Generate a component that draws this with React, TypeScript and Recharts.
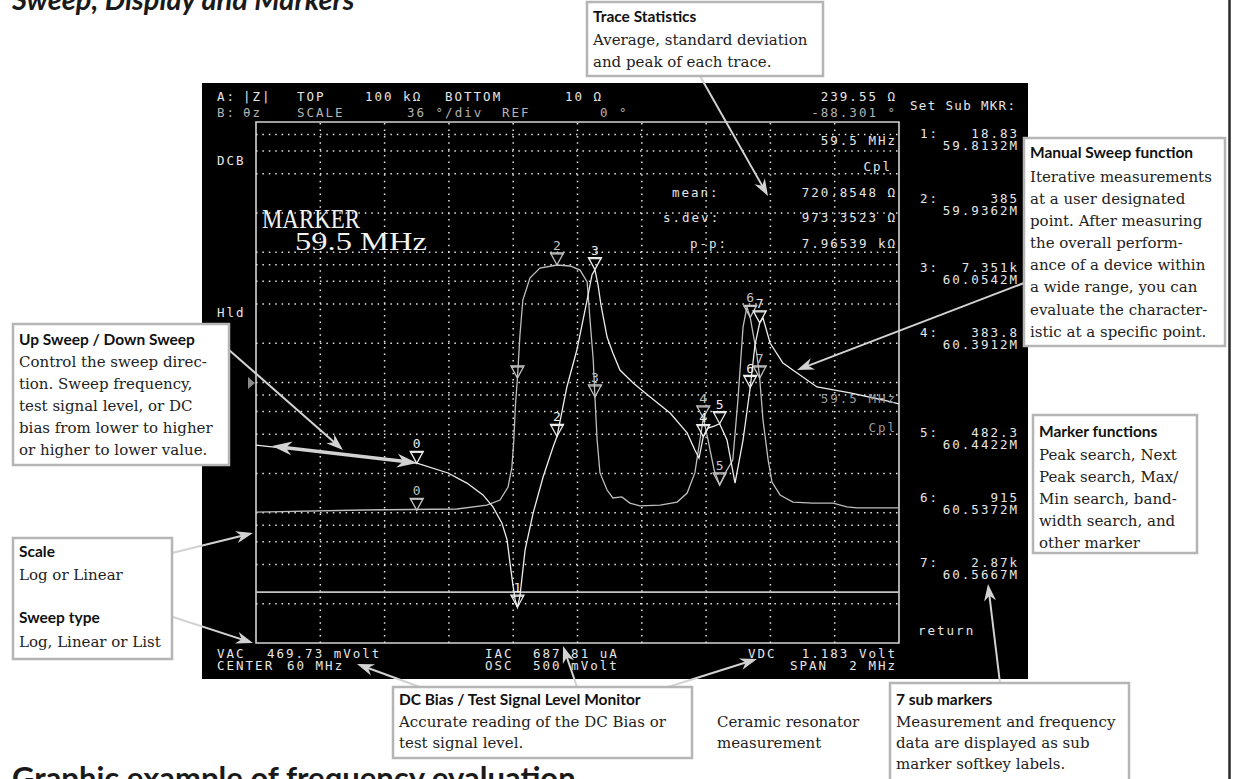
import React from "react";
import {
  ComposedChart,
  Line,
  Scatter,
  XAxis,
  YAxis,
  ReferenceLine,
  ReferenceArea,
} from "recharts";

// |Z| trace (MHz, ohm)
const Z_FREQ = [
  59.0, 59.106, 59.199, 59.292, 59.398, 59.498, 59.597, 59.656, 59.706, 59.737,
  59.765, 59.781, 59.79, 59.8, 59.806, 59.8132, 59.821, 59.837, 59.862, 59.893,
  59.924, 59.9362, 59.967, 59.998, 60.03, 60.045, 60.0542, 60.064, 60.073, 60.092,
  60.11, 60.132, 60.173, 60.226, 60.288, 60.341, 60.365, 60.378, 60.3912, 60.406,
  60.425, 60.4422, 60.465, 60.49, 60.515, 60.5372, 60.552, 60.5667, 60.577, 60.599,
  60.639, 60.683, 60.745, 60.848, 60.95, 61.0,
];
const Z_MAG = [
  331, 309, 293, 278, 259, 241, 202, 169, 137, 111,
  83, 62, 41, 27, 21.4, 18.83, 22.9, 51.8, 99.5, 188,
  320, 385, 924, 1776, 4300, 6690, 7351, 5600, 3936, 2235,
  1684, 1247, 991, 774, 583, 410, 303, 263, 383.8, 447,
  463, 482.3, 362, 169, 362, 915, 1941, 2870, 3128, 2011,
  1411, 1183, 924, 831, 734, 684,
];

// theta-z trace (MHz, degrees)
const P_FREQ = [
  59.0, 59.333, 59.625, 59.718, 59.759, 59.784, 59.796, 59.802, 59.807, 59.8132,
  59.821, 59.83, 59.852, 59.883, 59.9362, 59.977, 60.008, 60.03, 60.039, 60.049,
  60.0542, 60.061, 60.07, 60.092, 60.11, 60.138, 60.163, 60.194, 60.257, 60.31,
  60.341, 60.365, 60.381, 60.3912, 60.406, 60.425, 60.4422, 60.461, 60.483, 60.499,
  60.515, 60.527, 60.5372, 60.558, 60.5667, 60.577, 60.593, 60.605, 60.63, 60.67,
  60.733, 60.795, 60.838, 60.869, 61.0,
];
const P_DEG = [
  -89.5, -88.1, -87.4, -84.7, -81.2, -72.2, -58.4, -39.7, -15.5, 3.1,
  32.8, 57, 72.2, 79.1, 81.2, 80.5, 77.7, 69.5, 43.2, 15.6,
  -10, -39.7, -62.5, -74.3, -79.8, -79.1, -83.3, -85.3, -84.7, -82.6,
  -76.4, -62.5, -39.7, -24.5, -39.7, -60.5, -70.8, -61.9, -53.6, -12.1,
  38.4, 52.2, 45, 19, 3.1, -25.9, -53.6, -68.8, -77.7, -82.6,
  -83.3, -83.3, -86, -86.7, -86.7,
];

// markers 0..7
const MARKER_ID = ["0", "1", "2", "3", "4", "5", "6", "7"];
const MARKER_FREQ = [59.5, 59.8132, 59.9362, 60.0542, 60.3912, 60.4422, 60.5372, 60.5667];
const MARKER_Z = [239.55, 18.83, 385, 7351, 383.8, 482.3, 915, 2870];
const MARKER_PHASE = [-88.301, 3.1, 81.2, -10, -24.5, -70.8, 45, 3.1];
const PHASE_LABEL_SHOWN = [true, false, true, true, true, true, true, true];

// softkey labels
const SUB_VALUE = ["18.83", "385", "7.351k", "383.8", "482.3", "915", "2.87k"];
const SUB_FREQ = ["59.8132M", "59.9362M", "60.0542M", "60.3912M", "60.4422M", "60.5372M", "60.5667M"];
const SUB_Y = [138, 203, 272, 337, 437, 502, 567];

// grid
const GRID_FREQ = [59.2, 59.4, 59.6, 59.8, 60.0, 60.2, 60.4, 60.6, 60.8];
const GRID_MAG = [
  20, 40, 60, 80, 100, 200, 400, 600, 800, 1000, 2000, 4000, 6000, 8000,
  10000, 20000, 40000, 60000, 80000,
];
const LIMIT_Z = 24.6;

const W = 1236;
const H = 779;
const MONO = "'DejaVu Sans Mono', monospace";
const SANS = "Lato, 'Open Sans', sans-serif";
const SERIF = "'DejaVu Serif', serif";
const ARROW = "#d2d2d2";

function markerShape(color: string) {
  return (props: any) => {
    const { cx, cy, payload } = props;
    if (cx == null || cy == null) return <g />;
    return (
      <g>
        <path
          d={`M${cx - 6.5},${cy - 12} L${cx + 6.5},${cy - 12} L${cx},${cy} Z`}
          fill="none"
          stroke={color}
          strokeWidth={1.3}
        />
        <line x1={cx - 6.5} x2={cx + 6.5} y1={cy - 11} y2={cy - 11} stroke={color} strokeWidth={1.2} />
        {payload.showLabel && (
          <text x={cx} y={cy - 15} textAnchor="middle" fontFamily={MONO} fontSize={13} fill={color}>
            {payload.id}
          </text>
        )}
      </g>
    );
  };
}

function head(tx: number, ty: number, ux: number, uy: number, len: number, hw: number) {
  const bx = tx - ux * len;
  const by = ty - uy * len;
  const nx = tx - ux * len * 0.7;
  const ny = ty - uy * len * 0.7;
  return `${tx},${ty} ${bx - uy * hw},${by + ux * hw} ${nx},${ny} ${bx + uy * hw},${by - ux * hw}`;
}

function Arrow({ x1, y1, x2, y2, w = 2, both = false, len = 17, hw = 6 }: any) {
  const L = Math.hypot(x2 - x1, y2 - y1);
  const ux = (x2 - x1) / L;
  const uy = (y2 - y1) / L;
  const sx = both ? x1 + ux * len * 0.6 : x1;
  const sy = both ? y1 + uy * len * 0.6 : y1;
  return (
    <g>
      <line x1={sx} y1={sy} x2={x2 - ux * len * 0.6} y2={y2 - uy * len * 0.6} stroke={ARROW} strokeWidth={w} />
      <polygon points={head(x2, y2, ux, uy, len, hw)} fill={ARROW} />
      {both && <polygon points={head(x1, y1, -ux, -uy, len, hw)} fill={ARROW} />}
    </g>
  );
}

function Box({ x, y, w, h, items }: any) {
  return (
    <g>
      <rect x={x} y={y} width={w} height={h} fill="#fff" stroke="#b5b5b5" strokeWidth={2.5} />
      {items.map((it: any, i: number) => (
        <text
          key={i}
          x={x + 6}
          y={it.y}
          fontFamily={it.bold ? SANS : SERIF}
          fontWeight={it.bold ? 700 : 400}
          fontSize={it.bold ? 15.5 : 15}
          fill={it.bold ? "#111" : "#222"}
        >
          {it.t}
        </text>
      ))}
    </g>
  );
}

function Mono({ x, y, children, anchor = "start", fill = "#e6e6e6", len }: any) {
  return (
    <text
      x={x}
      y={y}
      textAnchor={anchor}
      fontFamily={MONO}
      fontSize={12.5}
      letterSpacing={len ? undefined : 2}
      textLength={len}
      lengthAdjust={len ? "spacing" : undefined}
      fill={fill}
    >
      {children}
    </text>
  );
}

export default function App() {
  const zData = Z_FREQ.map((f, i) => ({ f, z: Z_MAG[i] }));
  const pData = P_FREQ.map((f, i) => ({ f, p: P_DEG[i] }));
  const zMarks = MARKER_FREQ.map((f, i) => ({ f, z: MARKER_Z[i], id: MARKER_ID[i], showLabel: true }));
  const pMarks = MARKER_FREQ.map((f, i) => ({
    f,
    p: MARKER_PHASE[i],
    id: MARKER_ID[i],
    showLabel: PHASE_LABEL_SHOWN[i],
  }));
  const dot = { stroke: "#e4e4e4", strokeWidth: 1.5, strokeDasharray: "1.5 4.9" };

  return (
    <div style={{ position: "absolute", left: 0, top: 0, width: W, height: H, background: "#fff", overflow: "hidden" }}>
      <div style={{ position: "absolute", left: 202, top: 83, width: 826, height: 596, background: "#000" }} />
      <div style={{ position: "absolute", left: 0, top: 0 }}>
        <ComposedChart width={W} height={H} margin={{ top: 122, right: 337, bottom: 136, left: 256 }}>
          <XAxis type="number" dataKey="f" domain={[59, 61]} hide allowDataOverflow />
          <YAxis yAxisId="z" dataKey="z" type="number" scale="log" domain={[10, 100000]} hide allowDataOverflow />
          <YAxis yAxisId="p" dataKey="p" type="number" domain={[-180, 180]} hide allowDataOverflow />
          {GRID_FREQ.map((f) => (
            <ReferenceLine key={`gx${f}`} x={f} yAxisId="z" {...dot} />
          ))}
          {GRID_MAG.map((v) => (
            <ReferenceLine key={`gy${v}`} y={v} yAxisId="z" {...dot} />
          ))}
          <ReferenceLine y={LIMIT_Z} yAxisId="z" stroke="#c4c4c4" strokeWidth={1.6} />
          <ReferenceArea x1={59} x2={61} y1={10} y2={100000} yAxisId="z" fill="none" fillOpacity={0} stroke="#d4d4d4" strokeWidth={1.6} />
          <Line data={pData} dataKey="p" yAxisId="p" type="linear" stroke="#bdbdbd" strokeWidth={1.3} dot={false} isAnimationActive={false} />
          <Line data={zData} dataKey="z" yAxisId="z" type="linear" stroke="#ececec" strokeWidth={1.3} dot={false} isAnimationActive={false} />
          <Scatter data={pMarks} yAxisId="p" shape={markerShape("#c2c2c2")} isAnimationActive={false} />
          <Scatter data={zMarks} yAxisId="z" shape={markerShape("#ededed")} isAnimationActive={false} />
        </ComposedChart>
      </div>

      <svg width={W} height={H} style={{ position: "absolute", left: 0, top: 0, pointerEvents: "none" }}>
        {/* page heading */}
        <text x={12} y={10} fontFamily={SANS} fontWeight={700} fontStyle="italic" fontSize={29} fill="#1a1a1a">
          Sweep, Display and Markers
        </text>
        <text x={12} y={789} fontFamily={SANS} fontWeight={700} fontSize={31} fill="#1a1a1a">
          Graphic example of frequency evaluation
        </text>
        <line x1={1229.5} y1={0} x2={1229.5} y2={H} stroke="#2a2a2a" strokeWidth={2.5} />

        {/* header */}
        <Mono x={217} y={101}>A:</Mono>
        <Mono x={243} y={101}>|Z|</Mono>
        <Mono x={297} y={101}>TOP</Mono>
        <Mono x={365} y={101}>100 kΩ</Mono>
        <Mono x={445} y={101}>BOTTOM</Mono>
        <Mono x={565} y={101}>10 Ω</Mono>
        <Mono x={897} y={101} anchor="end">239.55 Ω</Mono>
        <Mono x={217} y={117} fill="#b4b4b4">B:</Mono>
        <Mono x={243} y={117} fill="#b4b4b4">θz</Mono>
        <Mono x={297} y={117} fill="#b4b4b4">SCALE</Mono>
        <Mono x={407} y={117} fill="#b4b4b4">36 °/div</Mono>
        <Mono x={502} y={117} fill="#b4b4b4">REF</Mono>
        <Mono x={600} y={117} fill="#b4b4b4">0 °</Mono>
        <Mono x={897} y={117} anchor="end" fill="#b4b4b4">-88.301 °</Mono>
        <Mono x={910} y={110} len={105}>Set Sub MKR:</Mono>

        <Mono x={217} y={165}>DCB</Mono>
        <Mono x={217} y={317}>Hld</Mono>
        <polygon points="248,377 255,383 248,389" fill="#8a8a8a" />

        {/* softkeys */}
        {SUB_VALUE.map((v, i) => (
          <g key={v}>
            <Mono x={920} y={SUB_Y[i]}>{`${i + 1}:`}</Mono>
            <Mono x={1019} y={SUB_Y[i]} anchor="end">{v}</Mono>
            <Mono x={1019} y={SUB_Y[i] + 12} anchor="end">{SUB_FREQ[i]}</Mono>
          </g>
        ))}
        <Mono x={918} y={635}>return</Mono>

        {/* in-plot readouts */}
        <Mono x={897} y={145} anchor="end">59.5 MHz</Mono>
        <Mono x={892} y={171} anchor="end">Cpl</Mono>
        <Mono x={672} y={197}>mean:</Mono>
        <Mono x={897} y={197} anchor="end">720.8548 Ω</Mono>
        <Mono x={663} y={222}>s.dev:</Mono>
        <Mono x={897} y={222} anchor="end">973.3523 Ω</Mono>
        <Mono x={690} y={248}>p-p:</Mono>
        <Mono x={897} y={248} anchor="end">7.96539 kΩ</Mono>
        <Mono x={897} y={403} anchor="end" fill="#9a9a9a">59.5 MHz</Mono>
        <Mono x={897} y={432} anchor="end" fill="#9a9a9a">Cpl</Mono>

        <text x={262} y={228} fontFamily="'Liberation Serif', serif" fontSize={28} fill="#f2f2f2" textLength={98} lengthAdjust="spacingAndGlyphs">
          MARKER
        </text>
        <text x={295} y={250} fontFamily="'Liberation Serif', serif" fontSize={25} fill="#f2f2f2" textLength={132} lengthAdjust="spacingAndGlyphs">
          59.5  MHz
        </text>

        {/* footer */}
        <Mono x={217} y={658}>VAC</Mono>
        <Mono x={267} y={658}>469.73 mVolt</Mono>
        <Mono x={217} y={670}>CENTER</Mono>
        <Mono x={287} y={670}>60 MHz</Mono>
        <Mono x={485} y={658}>IAC</Mono>
        <Mono x={533} y={658}>687.81 uA</Mono>
        <Mono x={485} y={670}>OSC</Mono>
        <Mono x={533} y={670}>500 mVolt</Mono>
        <Mono x={748} y={658}>VDC</Mono>
        <Mono x={897} y={658} anchor="end">1.183 Volt</Mono>
        <Mono x={790} y={670}>SPAN</Mono>
        <Mono x={897} y={670} anchor="end">2 MHz</Mono>

        {/* arrows */}
        <Arrow x1={700} y1={76} x2={768} y2={196} />
        <Arrow x1={1024} y1={283} x2={797} y2={370} />
        <Arrow x1={229} y1={350} x2={343} y2={450} />
        <Arrow x1={272} y1={446} x2={417} y2={463} w={3.5} both len={20} hw={7} />
        <Arrow x1={172} y1={553} x2={253} y2={533} />
        <Arrow x1={173} y1={617} x2={253} y2={643} />
        <Arrow x1={420} y1={687} x2={357} y2={664} />
        <Arrow x1={577} y1={687} x2={563} y2={646} />
        <Arrow x1={668} y1={687} x2={757} y2={659} />
        <Arrow x1={1000} y1={683} x2={988} y2={584} />

        {/* annotation boxes */}
        <Box
          x={587} y={2} w={236} h={74}
          items={[
            { t: "Trace Statistics", y: 22, bold: true },
            { t: "Average, standard deviation", y: 45 },
            { t: "and peak of each trace.", y: 67 },
          ]}
        />
        <Box
          x={1024} y={138} w={201} h={208}
          items={[
            { t: "Manual Sweep function", y: 158, bold: true },
            { t: "Iterative measurements", y: 182 },
            { t: "at a user designated", y: 204 },
            { t: "point. After measuring", y: 226 },
            { t: "the overall perform-", y: 248 },
            { t: "ance of a device within", y: 270 },
            { t: "a wide range, you can", y: 292 },
            { t: "evaluate the character-", y: 315 },
            { t: "istic at a specific point.", y: 337 },
          ]}
        />
        <Box
          x={1033} y={415} w={164} h={138}
          items={[
            { t: "Marker functions", y: 437, bold: true },
            { t: "Peak search, Next", y: 460 },
            { t: "Peak search, Max/", y: 482 },
            { t: "Min search, band-", y: 504 },
            { t: "width search, and", y: 526 },
            { t: "other marker", y: 548 },
          ]}
        />
        <Box
          x={13} y={324} w={216} h={141}
          items={[
            { t: "Up Sweep / Down Sweep", y: 345, bold: true },
            { t: "Control the sweep direc-", y: 367 },
            { t: "tion. Sweep frequency,", y: 389 },
            { t: "test signal level, or DC", y: 411 },
            { t: "bias from lower to higher", y: 433 },
            { t: "or higher to lower value.", y: 455 },
          ]}
        />
        <Box
          x={13} y={538} w={159} h={121}
          items={[
            { t: "Scale", y: 557, bold: true },
            { t: "Log or Linear", y: 580 },
            { t: "Sweep type", y: 623, bold: true },
            { t: "Log, Linear or List", y: 647 },
          ]}
        />
        <Box
          x={393} y={687} w={299} h={71}
          items={[
            { t: "DC Bias / Test Signal Level Monitor", y: 705, bold: true },
            { t: "Accurate reading of the DC Bias or", y: 727 },
            { t: "test signal level.", y: 748 },
          ]}
        />
        <Box
          x={890} y={683} w={239} h={100}
          items={[
            { t: "7 sub markers", y: 705, bold: true },
            { t: "Measurement and frequency", y: 727 },
            { t: "data are displayed as sub", y: 748 },
            { t: "marker softkey labels.", y: 769 },
          ]}
        />
        <text x={717} y={727} fontFamily={SERIF} fontSize={15} fill="#222">Ceramic resonator</text>
        <text x={717} y={748} fontFamily={SERIF} fontSize={15} fill="#222">measurement</text>
      </svg>
    </div>
  );
}
